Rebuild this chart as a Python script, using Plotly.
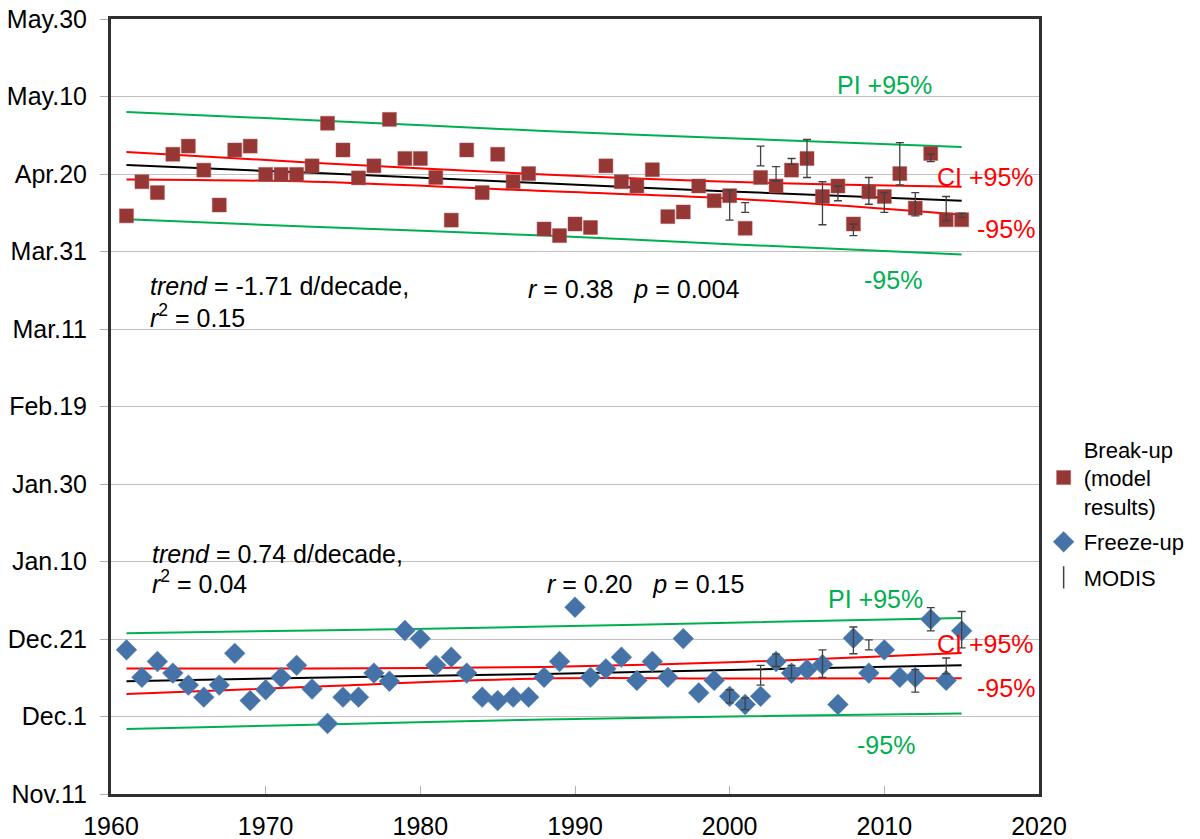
import plotly.graph_objects as go

# y values are days counted from Nov.11
years = list(range(1961, 2016))

breakup = [149.2, 158.0, 155.2, 165.1, 167.2, 161.0, 152.0, 166.2, 167.2, 159.9,
           159.9, 159.9, 162.1, 173.1, 166.2, 159.0, 162.1, 174.1, 164.0, 164.0,
           159.1, 148.1, 166.2, 155.2, 165.1, 158.0, 160.1, 145.8, 144.1, 147.1,
           146.2, 162.1, 158.0, 156.9, 161.1, 149.0, 150.2, 156.9, 153.1, 154.4,
           146.0, 159.1, 156.9, 161.0, 164.0, 154.2, 156.9, 147.1, 155.4, 154.2,
           160.1, 151.2, 165.3, 148.2, 148.2]

freezeup = [37.2, 30.1, 34.2, 31.2, 28.1, 25.0, 28.1, 36.3, 24.1, 26.9,
            30.1, 33.2, 27.1, 18.2, 25.0, 25.0, 31.2, 29.1, 42.2, 40.1,
            33.2, 35.3, 31.2, 25.0, 24.1, 25.0, 25.0, 30.1, 34.2, 48.2,
            30.1, 32.3, 35.3, 29.3, 34.2, 30.1, 40.1, 26.1, 29.3, 25.2,
            23.1, 25.2, 34.2, 31.2, 32.1, 33.4, 23.1, 40.2, 31.2, 37.2,
            30.1, 30.1, 45.1, 29.3, 42.1]

# MODIS ranges (low, high)
modis_bu_years = [2000, 2001, 2002, 2003, 2004, 2005, 2006, 2007, 2008, 2009,
                  2010, 2011, 2012, 2013, 2014, 2015]
modis_bu_low = [148.1, 150.1, 162.1, 158.2, 162.5, 159.1, 146.9, 153.1, 144.1, 152.2,
                150.1, 157.2, 149.2, 163.2, 147.9, 148.8]
modis_bu_high = [155.8, 152.6, 167.2, 161.9, 164.0, 168.9, 158.0, 156.9, 147.1, 159.1,
                 155.2, 168.1, 155.2, 165.1, 154.2, 149.9]

modis_fu_years = [2000, 2001, 2002, 2003, 2004, 2006, 2008, 2009, 2012, 2013, 2014, 2015]
modis_fu_low = [23.5, 21.8, 28.1, 32.9, 29.9, 30.1, 36.2, 37.2, 26.3, 42.1, 31.0, 37.7]
modis_fu_high = [26.9, 24.8, 33.2, 36.1, 33.2, 37.2, 43.1, 39.8, 32.1, 48.1, 35.1, 47.1]

# regression, confidence and prediction bands
band_years = [1961, 1973, 1988, 2000, 2015]
bu_trend = [162.3, 160.3, 157.6, 155.5, 153.1]
bu_ci_hi = [165.7, 162.9, 159.9, 158.0, 156.7]
bu_ci_lo = [158.6, 158.0, 155.6, 153.7, 149.5]
bu_pi_hi = [176.0, 173.9, 171.1, 169.2, 167.0]
bu_pi_lo = [148.3, 146.4, 144.1, 141.9, 139.2]

fu_trend = [29.1, 30.0, 31.0, 32.0, 33.2]
fu_ci_hi = [32.4, 32.4, 32.8, 34.0, 36.4]
fu_ci_lo = [25.8, 27.7, 29.8, 29.8, 29.9]
fu_pi_hi = [41.5, 42.2, 43.2, 44.2, 45.4]
fu_pi_lo = [16.8, 17.9, 19.2, 20.0, 20.8]

tick_days = [0, 20, 40, 60, 80, 100, 120, 140, 160, 180, 200]
tick_labels = ["Nov.11", "Dec.1", "Dec.21", "Jan.10", "Jan.30", "Feb.19",
               "Mar.11", "Mar.31", "Apr.20", "May.10", "May.30"]

RED = "#ff0000"
GREEN = "#00b050"
FONT = "Liberation Sans, Arial, sans-serif"

fig = go.Figure()

def band(y, color):
    fig.add_trace(go.Scatter(x=band_years, y=y, mode="lines", line=dict(color=color, width=2, shape="spline"),
                             showlegend=False, hoverinfo="skip"))

for y, c in [(bu_pi_hi, GREEN), (bu_pi_lo, GREEN), (bu_ci_hi, RED), (bu_ci_lo, RED), (bu_trend, "black"),
             (fu_pi_hi, GREEN), (fu_pi_lo, GREEN), (fu_ci_hi, RED), (fu_ci_lo, RED), (fu_trend, "black")]:
    band(y, c)

fig.add_trace(go.Scatter(x=years, y=breakup, mode="markers", name="Break-up<br>(model<br>results)",
                         legendgroup="a",
                         marker=dict(symbol="square", size=14, color="#953735",
                                     line=dict(color="#b05050", width=0.5))))
fig.add_trace(go.Scatter(x=years, y=freezeup, mode="markers", name="Freeze-up", legendgroup="b",
                         marker=dict(symbol="diamond", size=16, color="#4572a7",
                                     line=dict(color="#5a86bb", width=0.5))))

def modis(xs, lo, hi):
    mid = [(a + b) / 2 for a, b in zip(lo, hi)]
    half = [(b - a) / 2 for a, b in zip(lo, hi)]
    fig.add_trace(go.Scatter(x=xs, y=mid, mode="markers", marker=dict(size=1, opacity=0),
                             error_y=dict(type="data", array=half, color="#404040", thickness=1.3, width=4),
                             showlegend=False, hoverinfo="skip"))

modis(modis_bu_years, modis_bu_low, modis_bu_high)
modis(modis_fu_years, modis_fu_low, modis_fu_high)

fig.add_trace(go.Scatter(x=[None], y=[None], mode="markers", name="MODIS", legendgroup="c",
                         marker=dict(symbol="line-ns-open", size=18, color="#404040",
                                     line=dict(color="#404040", width=1.5))))

def note(x, y, text, color="black"):
    fig.add_annotation(x=x, y=y, text=text, showarrow=False, xanchor="left", yanchor="middle",
                       align="left", font=dict(size=25, color=color, family=FONT))

note(1962.4, 131.0, "<i>trend</i> = -1.71 d/decade,")
note(1962.4, 123.3, "<i>r</i><sup>2</sup> = 0.15")
note(1986.8, 130.2, "<i>r</i> = 0.38 \u00a0 <i>p</i> = 0.004")
note(2006.8, 183.0, "PI +95%", GREEN)
note(2013.3, 159.1, "CI +95%", RED)
note(2015.85, 145.9, "-95%", RED)
note(2008.55, 132.6, "-95%", GREEN)

note(1962.5, 62.0, "<i>trend</i> = 0.74 d/decade,")
note(1962.5, 54.6, "<i>r</i><sup>2</sup> = 0.04")
note(1988.05, 54.3, "<i>r</i> = 0.20 \u00a0 <i>p</i> = 0.15")
note(2006.2, 50.2, "PI +95%", GREEN)
note(2013.3, 38.6, "CI +95%", RED)
note(2015.85, 27.3, "-95%", RED)
note(2008.1, 12.6, "-95%", GREEN)

# page body adds ~8px offset, so the figure is 8px smaller than the window
fig.update_layout(
    width=1192, height=831,
    margin=dict(l=103, r=161, t=11, b=45, autoexpand=False),
    paper_bgcolor="white", plot_bgcolor="white",
    font=dict(family=FONT, size=25, color="black"),
    legend=dict(x=1.005, y=0.472, xanchor="left", yanchor="top", font=dict(size=22),
                tracegroupgap=4, itemwidth=30, bgcolor="rgba(0,0,0,0)"),
    xaxis=dict(range=[1960, 2020], dtick=10, tick0=1960, showgrid=False, zeroline=False,
               ticks="inside", ticklen=8, tickcolor="#b0b0b0", automargin=False,
               showline=True, linecolor="#303030", linewidth=3, mirror=True,
               ticklabelstandoff=8, ticklabeloverflow="allow", tickfont=dict(size=25)),
    yaxis=dict(range=[0, 200], tickvals=tick_days, ticktext=tick_labels, automargin=False,
               showgrid=True, gridcolor="#c0c0c0", gridwidth=1, zeroline=False,
               ticks="outside", ticklen=8, tickcolor="#b0b0b0",
               showline=True, linecolor="#303030", linewidth=3, mirror=True,
               ticklabelstandoff=8, ticklabeloverflow="allow", tickfont=dict(size=25)),
)

fig.write_html("out.html")
